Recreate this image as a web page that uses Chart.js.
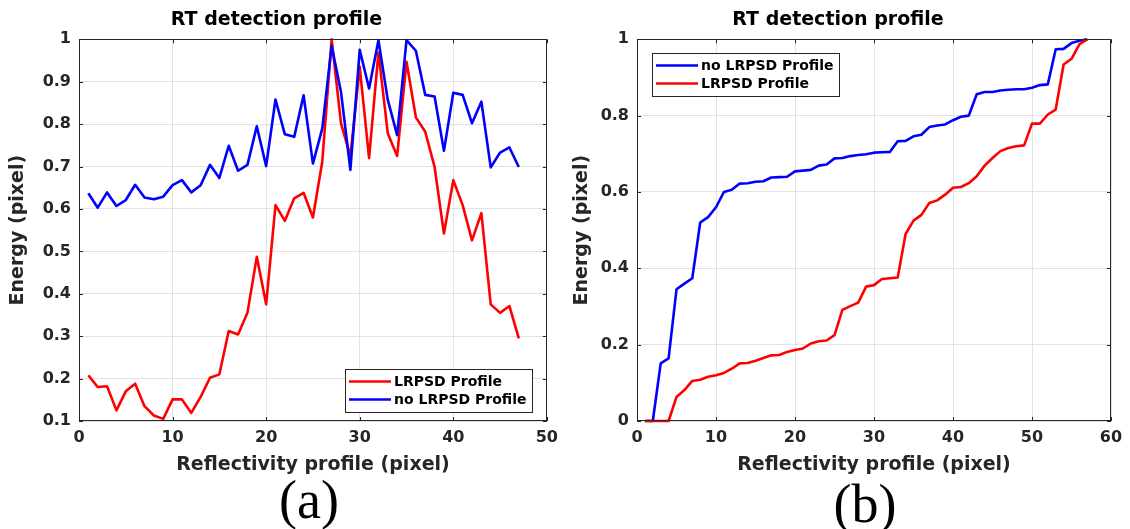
<!DOCTYPE html>
<html>
<head>
<meta charset="utf-8">
<title>RT detection profile</title>
<script src="https://cdn.jsdelivr.net/npm/chart.js@4.4.1/dist/chart.umd.min.js"></script>
<style>
body{margin:0;background:#fff;width:1130px;height:529px;position:relative;overflow:hidden;}
canvas{position:absolute;top:0;}
#graficaA{left:0;}
#graficaB{left:565px;}
.rotulo{position:absolute;font-family:"Liberation Serif",serif;font-size:54px;line-height:1;color:#000;transform:translateX(-50%);}
#rotuloA{left:309px;top:473px;}
#rotuloB{left:865px;top:477px;}
</style>
</head>
<body>
<canvas id="graficaA" width="565" height="480"></canvas>
<canvas id="graficaB" width="565" height="480"></canvas>
<div class="rotulo" id="rotuloA">(a)</div>
<div class="rotulo" id="rotuloB">(b)</div>
<script>
// (a) energia por pixel del perfil
var pixelA = [1,2,3,4,5,6,7,8,9,10,11,12,13,14,15,16,17,18,19,20,21,22,23,24,25,26,27,28,29,30,31,32,33,34,35,36,37,38,39,40,41,42,43,44,45,46,47];
var lrpsdA = [0.208,0.180,0.182,0.125,0.170,0.188,0.135,0.113,0.105,0.151,
              0.151,0.119,0.157,0.202,0.210,0.312,0.304,0.355,0.487,0.375,
              0.609,0.572,0.625,0.638,0.580,0.712,1.000,0.802,0.724,0.935,
              0.720,0.969,0.778,0.725,0.947,0.816,0.782,0.699,0.542,0.668,
              0.609,0.526,0.590,0.375,0.355,0.371,0.295];
var sinLrpsdA = [0.637,0.603,0.639,0.607,0.621,0.657,0.627,0.623,0.629,0.656,
                 0.668,0.639,0.656,0.704,0.673,0.749,0.690,0.704,0.795,0.701,
                 0.858,0.776,0.770,0.868,0.707,0.790,0.985,0.876,0.692,0.975,
                 0.884,0.998,0.857,0.774,0.998,0.973,0.869,0.865,0.737,0.874,
                 0.869,0.802,0.853,0.698,0.733,0.745,0.699];

// (b) energia acumulada
var pixelB = [1,2,3,4,5,6,7,8,9,10,11,12,13,14,15,16,17,18,19,20,21,22,23,24,25,26,27,28,29,30,
              31,32,33,34,35,36,37,38,39,40,41,42,43,44,45,46,47,48,49,50,51,52,53,54,55,56,57];
var sinLrpsdB = [0,0,0.151,0.164,0.345,0.360,0.374,0.520,0.534,0.560,
                 0.600,0.606,0.622,0.623,0.627,0.628,0.638,0.639,0.640,0.654,
                 0.656,0.658,0.669,0.672,0.688,0.689,0.694,0.697,0.699,0.703,
                 0.704,0.705,0.733,0.734,0.746,0.750,0.770,0.774,0.777,0.788,
                 0.797,0.800,0.856,0.862,0.862,0.866,0.868,0.869,0.869,0.873,
                 0.880,0.882,0.974,0.975,0.990,0.996,1.000];
var lrpsdB = [0,0,0,0,0.063,0.081,0.105,0.108,0.116,0.120,
              0.126,0.137,0.151,0.152,0.158,0.165,0.172,0.173,0.181,0.186,
              0.190,0.203,0.209,0.211,0.225,0.291,0.301,0.310,0.352,0.356,
              0.372,0.374,0.376,0.490,0.525,0.540,0.571,0.578,0.593,0.611,
              0.613,0.623,0.641,0.669,0.689,0.707,0.715,0.720,0.722,0.779,
              0.779,0.803,0.816,0.934,0.949,0.987,1.000];

var ROJO = '#ff0000', AZUL = '#0000ff', GRIS = '#262626';
var FUENTE = '"DejaVu Sans", sans-serif';

Chart.defaults.font.family = FUENTE;
Chart.defaults.color = GRIS;

// caja de ejes con marcas hacia dentro en los cuatro lados
var marcoEjes = {
    id: 'marcoEjes',
    afterDatasetsDraw: function (chart) {
        var ctx = chart.ctx, a = chart.chartArea, sx = chart.scales.x, sy = chart.scales.y;
        var t = 4;
        ctx.save();
        ctx.strokeStyle = GRIS;
        ctx.lineWidth = 1;
        ctx.beginPath();
        sx.ticks.forEach(function (tk) {
            var px = Math.round(sx.getPixelForValue(tk.value)) + 0.5;
            ctx.moveTo(px, a.bottom); ctx.lineTo(px, a.bottom - t);
            ctx.moveTo(px, a.top); ctx.lineTo(px, a.top + t);
        });
        sy.ticks.forEach(function (tk) {
            var py = Math.round(sy.getPixelForValue(tk.value)) + 0.5;
            ctx.moveTo(a.left, py); ctx.lineTo(a.left + t, py);
            ctx.moveTo(a.right, py); ctx.lineTo(a.right - t, py);
        });
        ctx.stroke();
        ctx.strokeRect(Math.round(a.left) + 0.5, Math.round(a.top) + 0.5, Math.round(a.width) - 1, Math.round(a.height) - 1);
        ctx.restore();
    }
};

// leyenda dentro del area de la grafica
var leyendaCaja = {
    id: 'leyendaCaja',
    afterDraw: function (chart, args, opts) {
        var ctx = chart.ctx, a = chart.chartArea;
        var items = chart.data.datasets;
        ctx.save();
        ctx.font = 'bold 14px ' + FUENTE;
        var anchoTexto = 0;
        items.forEach(function (d) { anchoTexto = Math.max(anchoTexto, ctx.measureText(d.label).width); });
        var w = 49 + anchoTexto + 6, h = 25 + 18 * (items.length - 1);
        var x, y;
        if (opts.pos === 'abajo') {
            x = a.right - opts.mx - w;
            y = a.bottom - opts.my - h;
        } else {
            x = a.left + opts.mx;
            y = a.top + opts.my;
        }
        x = Math.round(x); y = Math.round(y);
        ctx.fillStyle = '#fff';
        ctx.fillRect(x, y, w, h);
        ctx.strokeStyle = GRIS;
        ctx.lineWidth = 1;
        ctx.strokeRect(x + 0.5, y + 0.5, Math.round(w), h);
        items.forEach(function (d, i) {
            var cy = y + 12.5 + 18 * i;
            ctx.strokeStyle = d.borderColor;
            ctx.lineWidth = 2.6;
            ctx.beginPath();
            ctx.moveTo(x + 4, cy);
            ctx.lineTo(x + 46, cy);
            ctx.stroke();
            ctx.fillStyle = '#000';
            ctx.textBaseline = 'middle';
            ctx.fillText(d.label, x + 49, cy + 1);
        });
        ctx.restore();
    }
};

function serie(etiqueta, datos, color, orden) {
    return {
        label: etiqueta,
        data: datos,
        borderColor: color,
        backgroundColor: color,
        borderWidth: 2.6,
        borderJoinStyle: 'round',
        pointRadius: 0,
        tension: 0,
        fill: false,
        clip: 2,
        order: orden
    };
}

function formatoTick(v) {
    return String(Number(v.toFixed(1)));
}

function crearGrafica(id, p) {
    return new Chart(document.getElementById(id), {
        type: 'line',
        data: { labels: p.labels, datasets: p.datasets },
        options: {
            responsive: false,
            animation: false,
            devicePixelRatio: 1,
            layout: { padding: { left: 0, right: p.derecha, top: 0, bottom: 0 } },
            plugins: {
                legend: { display: false },
                tooltip: { enabled: false },
                title: {
                    display: true,
                    text: 'RT detection profile',
                    color: '#000',
                    font: { size: 19, weight: 'bold' },
                    padding: { top: 9, bottom: 7.5 }
                },
                leyendaCaja: p.leyenda
            },
            scales: {
                x: {
                    type: 'linear',
                    min: 0,
                    max: p.xMax,
                    afterFit: function (s) { s.height = 59; },
                    grid: { color: '#e2e2e2', drawTicks: false },
                    border: { display: false },
                    ticks: { stepSize: 10, padding: 7, font: { size: 16, weight: 'bold' }, maxRotation: 0 },
                    title: {
                        display: true,
                        text: 'Reflectivity profile (pixel)',
                        font: { size: 19, weight: 'bold' },
                        padding: { top: 0, bottom: 4 }
                    }
                },
                y: {
                    min: p.yMin,
                    max: 1,
                    afterFit: function (s) { s.width = p.ancho; },
                    grid: { color: '#e2e2e2', drawTicks: false },
                    border: { display: false },
                    ticks: { stepSize: p.paso, padding: 8, font: { size: 16, weight: 'bold' }, callback: formatoTick },
                    title: {
                        display: true,
                        text: 'Energy (pixel)',
                        font: { size: 19, weight: 'bold' },
                        padding: { top: p.tituloY, bottom: 0 }
                    }
                }
            }
        },
        plugins: [marcoEjes, leyendaCaja]
    });
}

crearGrafica('graficaA', {
    labels: pixelA,
    datasets: [
        serie('LRPSD Profile', lrpsdA, ROJO, 1),
        serie('no LRPSD Profile', sinLrpsdA, AZUL, 0)
    ],
    xMax: 50, yMin: 0.1, paso: 0.1,
    ancho: 79, derecha: 12, tituloY: 7,
    leyenda: { pos: 'abajo', mx: 14, my: 9 }
});

crearGrafica('graficaB', {
    labels: pixelB,
    datasets: [
        serie('no LRPSD Profile', sinLrpsdB, AZUL, 1),
        serie('LRPSD Profile', lrpsdB, ROJO, 0)
    ],
    xMax: 60, yMin: 0, paso: 0.2,
    ancho: 72, derecha: 19, tituloY: 6,
    leyenda: { pos: 'arriba', mx: 15, my: 14 }
});
</script>
</body>
</html>
